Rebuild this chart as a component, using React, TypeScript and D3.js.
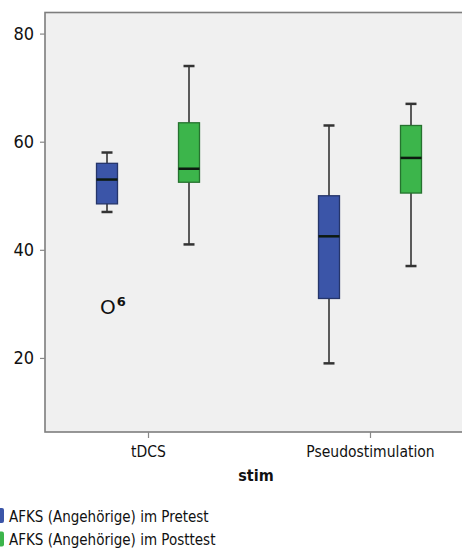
import React, { useRef, useEffect } from 'react';
import * as d3 from 'd3';

// categories and series
const categories = ['tDCS', 'Pseudostimulation'];
const seriesKeys = ['pre', 'post'];
const seriesLabels = ['AFKS (Angehörige) im Pretest', 'AFKS (Angehörige) im Posttest'];
const seriesColors = ['#3b55a8', '#3cb54b'];

// box stats per category (tDCS, Pseudostimulation)
const preMin = [47, 19];
const preQ1 = [48.5, 31];
const preMedian = [53, 42.5];
const preQ3 = [56, 50];
const preMax = [58, 63];

const postMin = [41, 37];
const postQ1 = [52.5, 50.5];
const postMedian = [55, 57];
const postQ3 = [63.5, 63];
const postMax = [74, 67];

// outliers
const outlierCategory = ['tDCS'];
const outlierSeries = ['pre'];
const outlierValue = [29.5];
const outlierLabel = ['6'];

const yTicks = [20, 40, 60, 80];

const font = '"DejaVu Sans Condensed", sans-serif';

const App = () => {
  const svgRef = useRef<SVGSVGElement | null>(null);

  useEffect(() => {
    if (!svgRef.current) return;
    const svg = d3.select(svgRef.current);
    svg.selectAll('*').remove();

    const width = 462;
    const height = 549;
    const plot = { left: 45, right: 473, top: 12.5, bottom: 432 };

    const x = d3.scalePoint<string>()
      .domain(categories)
      .range([plot.left, plot.right])
      .padding(0.464);

    const xSub = d3.scalePoint<string>()
      .domain(seriesKeys)
      .range([-41, 41]);

    const y = d3.scaleLinear()
      .domain([6.3, 83.9])
      .range([plot.bottom, plot.top]);

    svg.attr('width', width).attr('height', height);

    svg.append('rect')
      .attr('width', width).attr('height', height)
      .attr('fill', '#fff');

    // plot background + frame
    svg.append('rect')
      .attr('x', plot.left)
      .attr('y', plot.top)
      .attr('width', plot.right - plot.left)
      .attr('height', plot.bottom - plot.top)
      .attr('fill', '#f0f0f0')
      .attr('stroke', '#7d7d7d')
      .attr('stroke-width', 1.6);

    // y axis
    const yAxis = svg.append('g')
      .attr('transform', `translate(${plot.left},0)`)
      .call(d3.axisLeft(y).tickValues(yTicks).tickSize(5).tickPadding(6));
    yAxis.select('.domain').remove();
    yAxis.selectAll('line').attr('stroke', '#888').attr('stroke-width', 1.2);
    yAxis.selectAll('text')
      .attr('font-family', font)
      .attr('font-size', 18)
      .attr('fill', '#111');

    // x axis
    const xAxis = svg.append('g')
      .attr('transform', `translate(0,${plot.bottom})`)
      .call(d3.axisBottom(x).tickSize(6).tickPadding(8));
    xAxis.select('.domain').remove();
    xAxis.selectAll('line').attr('stroke', '#888').attr('stroke-width', 1.2);
    xAxis.selectAll('text')
      .attr('font-family', font)
      .attr('font-size', 15.5)
      .attr('fill', '#111');

    svg.append('text')
      .attr('x', (plot.left + plot.right) / 2 - 3)
      .attr('y', 481)
      .attr('text-anchor', 'middle')
      .attr('font-family', font)
      .attr('font-size', 16)
      .attr('font-weight', 'bold')
      .attr('fill', '#111')
      .text('stim');

    const stats = {
      pre: { min: preMin, q1: preQ1, median: preMedian, q3: preQ3, max: preMax },
      post: { min: postMin, q1: postQ1, median: postMedian, q3: postQ3, max: postMax },
    };

    const boxW = 21;
    const capW = 11;

    seriesKeys.forEach((key, si) => {
      const s = stats[key];
      const color = seriesColors[si];
      categories.forEach((cat, ci) => {
        const cx = (x(cat) ?? 0) + (xSub(key) ?? 0);
        const g = svg.append('g');

        // whisker
        g.append('line')
          .attr('x1', cx).attr('x2', cx)
          .attr('y1', y(s.min[ci])).attr('y2', y(s.max[ci]))
          .attr('stroke', '#5a5a5a')
          .attr('stroke-width', 2);

        [s.min[ci], s.max[ci]].forEach(v => {
          g.append('line')
            .attr('x1', cx - capW / 2).attr('x2', cx + capW / 2)
            .attr('y1', y(v)).attr('y2', y(v))
            .attr('stroke', '#333')
            .attr('stroke-width', 2.5);
        });

        g.append('rect')
          .attr('x', cx - boxW / 2)
          .attr('y', y(s.q3[ci]))
          .attr('width', boxW)
          .attr('height', y(s.q1[ci]) - y(s.q3[ci]))
          .attr('fill', color)
          .attr('stroke', d3.color(color)!.darker(1.3).toString())
          .attr('stroke-width', 1.3);

        g.append('line')
          .attr('x1', cx - boxW / 2).attr('x2', cx + boxW / 2)
          .attr('y1', y(s.median[ci])).attr('y2', y(s.median[ci]))
          .attr('stroke', '#0d1a10')
          .attr('stroke-width', 2.5);
      });
    });

    // outliers
    outlierValue.forEach((v, i) => {
      const cx = (x(outlierCategory[i]) ?? 0) + (xSub(outlierSeries[i]) ?? 0);
      const t = svg.append('text')
        .attr('x', cx - 7)
        .attr('y', y(v) + 7)
        .attr('font-family', '"DejaVu Sans", sans-serif')
        .attr('font-size', 20)
        .attr('fill', '#111');
      t.append('tspan').text('O');
      t.append('tspan')
        .attr('dy', -8)
        .attr('dx', 1)
        .attr('font-size', 13)
        .attr('font-weight', 'bold')
        .text(outlierLabel[i]);
    });

    // legend
    const legend = svg.append('g').attr('transform', 'translate(0,508)');
    seriesLabels.forEach((label, i) => {
      const row = legend.append('g').attr('transform', `translate(0,${i * 23.5})`);
      row.append('rect')
        .attr('x', -4).attr('y', 0)
        .attr('width', 8).attr('height', 15)
        .attr('rx', 2)
        .attr('fill', seriesColors[i]);
      row.append('text')
        .attr('x', 9).attr('y', 13.5)
        .attr('font-family', font)
        .attr('font-size', 15)
        .attr('fill', '#111')
        .text(label);
    });
  }, []);

  return (
    <div style={{ position: 'absolute', left: 0, top: 0 }}>
      <svg ref={svgRef} style={{ display: 'block' }} />
    </div>
  );
};

export default App;
